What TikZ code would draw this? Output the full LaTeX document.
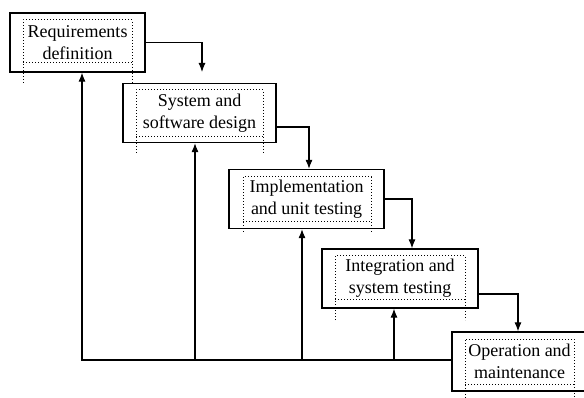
\documentclass[tikz,border=0pt]{standalone}
\usepackage{fontspec}
\setmainfont{Liberation Serif}
\usetikzlibrary{arrows.meta}

\tikzset{
  stage/.style={draw, line width=1.2pt, minimum height=59pt, inner sep=0pt,
    align=center, font=\fontsize{18}{22}\selectfont},
  frame/.style={dotted, line width=1pt},
  flow/.style={->, line width=1.1pt}
}

\begin{document}
\begin{tikzpicture}[x=1pt, y=-1pt, >={Latex[length=9pt,width=7pt]}]

  \useasboundingbox (0,0) rectangle (584,398);
  \clip (0,0) rectangle (584,398);

  \node[stage, minimum width=135pt] (req) at (77.5,42.5) {Requirements\\definition};
  \node[stage, minimum width=153pt] (des) at (199.5,113) {System and\\software design};
  \node[stage, minimum width=155pt] (imp) at (306.5,199) {Implementation\\and unit testing};
  \node[stage, minimum width=156pt] (int) at (400,278.5) {Integration and\\system testing};
  \node[stage, minimum width=135pt] (ope) at (519.5,361.5) {Operation and\\maintenance};

  % dotted text frames
  \draw[frame] (23,83) -- (23,20) -- (132,20) -- (132,83);
  \draw[frame] (23,63) -- (132,63);
  \draw[frame] (136,153) -- (136,90) -- (263,90) -- (263,153);
  \draw[frame] (136,137) -- (263,137);
  \draw[frame] (243,232) -- (243,177) -- (371,177) -- (371,232);
  \draw[frame] (243,222) -- (371,222);
  \draw[frame] (335,320) -- (335,256) -- (465,256) -- (465,320);
  \draw[frame] (335,300) -- (465,300);
  \draw[frame] (465,398) -- (465,339) -- (574,339) -- (574,398);
  \draw[frame] (465,384) -- (574,384);

  % forward flow
  \coordinate (c1) at (202,72);
  \draw[flow] (req.east) -| (c1);
  \draw[flow] ([yshift=-14pt]des.east) -| ([xshift=2.5pt]imp.north);
  \draw[flow] (imp.east) -| ([xshift=12pt]int.north);
  \draw[flow] ([yshift=-15.5pt]int.east) -| ([xshift=-1.5pt]ope.north);

  % feedback
  \coordinate (fb) at (82,360);
  \draw[flow] (ope.west |- fb) -| ([xshift=4.5pt]req.south);
  \draw[flow] ([xshift=-4.5pt]des.south |- fb) -- ([xshift=-4.5pt]des.south);
  \draw[flow] ([xshift=-4.5pt]imp.south |- fb) -- ([xshift=-4.5pt]imp.south);
  \draw[flow] ([xshift=-6pt]int.south |- fb) -- ([xshift=-6pt]int.south);

\end{tikzpicture}
\end{document}
